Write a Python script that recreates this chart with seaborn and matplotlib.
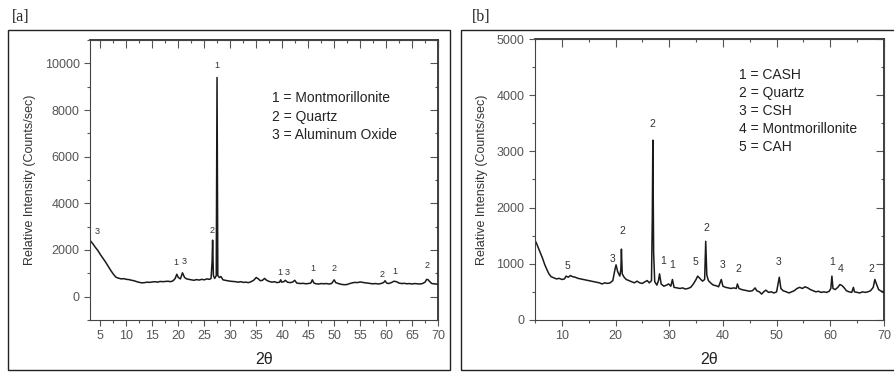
import matplotlib
matplotlib.use("Agg")
import matplotlib.pyplot as plt
from matplotlib.patches import Rectangle
from matplotlib.ticker import MultipleLocator
import seaborn as sns

# ---- panel [a] : raw soil ----
two_theta_a = [3.0, 3.3, 3.6, 4.0, 4.5, 5.0, 5.5, 6.0, 6.5, 7.0, 7.5, 8.0, 8.5, 9.0, 9.5, 10.0,
               10.5, 11.0, 11.5, 12.0, 12.5, 13.0, 13.5, 14.0, 14.5, 15.0, 15.5, 16.0, 16.5, 17.0,
               17.5, 18.0, 18.5, 19.0, 19.4, 19.7, 20.0, 20.4, 20.8, 21.2, 21.6, 22.0, 22.5, 23.0,
               23.5, 24.0, 24.5, 25.0, 25.5, 26.0, 26.3, 26.5, 26.6, 26.75, 27.0, 27.3, 27.45, 27.6,
               27.9, 28.2, 28.6, 29.0, 29.5, 30.0, 30.5, 31.0, 31.5, 32.0, 32.5, 33.0, 33.5, 34.0,
               34.5, 35.0, 35.4, 35.8, 36.2, 36.6, 37.0, 37.5, 38.0, 38.5, 39.0, 39.5, 39.7, 39.9,
               40.3, 40.6, 41.0, 41.5, 42.0, 42.4, 42.8, 43.5, 44.0, 44.5, 45.0, 45.5, 45.8, 46.1,
               46.5, 47.0, 47.5, 48.0, 48.5, 49.0, 49.5, 50.0, 50.3, 50.8, 51.5, 52.0, 52.5, 53.0,
               53.5, 54.0, 54.5, 55.0, 55.5, 56.0, 56.5, 57.0, 57.5, 58.0, 58.5, 59.0, 59.5, 59.8,
               60.1, 60.5, 61.0, 61.5, 62.0, 62.5, 63.0, 63.5, 64.0, 64.5, 65.0, 65.5, 66.0, 66.5,
               67.0, 67.5, 67.8, 68.1, 68.4, 68.8, 69.2, 69.6, 70.0]
counts_a = [2420, 2330, 2250, 2120, 1980, 1800, 1640, 1480, 1300, 1120, 960, 830, 790, 760, 770, 740,
            730, 700, 680, 640, 610, 590, 600, 620, 610, 630, 640, 620, 650, 640,
            650, 660, 640, 680, 780, 960, 820, 760, 1020, 820, 760, 740, 720, 700,
            730, 710, 740, 720, 760, 740, 780, 1500, 2420, 900, 780, 900, 9400, 900,
            820, 860, 720, 700, 680, 660, 650, 640, 620, 640, 610, 620, 600, 640,
            700, 820, 760, 680, 700, 780, 700, 650, 620, 640, 600, 620, 720, 620,
            640, 700, 620, 600, 620, 700, 580, 560, 570, 550, 560, 580, 720, 580,
            550, 540, 560, 550, 560, 540, 560, 720, 600, 560, 520, 510, 520, 560,
            590, 610, 600, 630, 610, 590, 580, 560, 550, 560, 540, 560, 600, 680,
            580, 560, 600, 660, 640, 580, 560, 570, 550, 560, 540, 560, 550, 540,
            560, 620, 740, 720, 640, 560, 550, 540, 530]
peak_labels_a = ["3", "1", "3", "2", "1", "1", "3", "1", "2", "2", "1", "2"]
peak_x_a = [4.3, 19.5, 21.1, 26.5, 27.5, 39.6, 41.0, 45.8, 50.0, 59.3, 61.6, 67.9]
peak_y_a = [2600, 1250, 1300, 2650, 9700, 850, 850, 1000, 1000, 750, 900, 1150]
legend_a = ["1 = Montmorillonite", "2 = Quartz", "3 = Aluminum Oxide"]

# ---- panel [b] : stabilised soil ----
two_theta_b = [5.0, 5.3, 5.6, 6.0, 6.4, 6.8, 7.2, 7.6, 8.0, 8.5, 9.0, 9.5, 10.0, 10.5, 10.8, 11.2,
               11.6, 12.0, 12.5, 13.0, 13.5, 14.0, 14.5, 15.0, 15.5, 16.0, 16.5, 17.0, 17.5, 18.0,
               18.5, 19.0, 19.5, 19.9, 20.1, 20.4, 20.8, 21.0, 21.1, 21.25, 21.6, 22.0, 22.5, 23.0,
               23.5, 24.0, 24.5, 25.0, 25.5, 25.9, 26.3, 26.7, 26.85, 26.95, 27.1, 27.3, 27.7, 28.0,
               28.2, 28.5, 29.0, 29.5, 29.9, 30.3, 30.6, 30.9, 31.5, 32.0, 32.5, 33.0, 33.5, 34.0,
               34.5, 35.0, 35.3, 35.7, 36.2, 36.6, 36.8, 37.0, 37.3, 37.7, 38.2, 38.7, 39.2, 39.7,
               40.0, 40.5, 41.0, 41.5, 42.0, 42.5, 42.7, 43.0, 43.5, 44.0, 44.5, 45.0, 45.5, 46.0,
               46.3, 46.8, 47.2, 47.6, 48.0, 48.5, 49.0, 49.5, 50.0, 50.5, 50.8, 51.2, 51.8, 52.3,
               52.8, 53.3, 53.8, 54.3, 54.8, 55.3, 55.8, 56.3, 56.8, 57.3, 57.8, 58.3, 58.8, 59.3,
               59.8, 60.1, 60.3, 60.5, 60.9, 61.4, 61.8, 62.2, 62.6, 63.0, 63.5, 64.0, 64.3, 64.5,
               65.0, 65.5, 66.0, 66.5, 67.0, 67.5, 68.0, 68.3, 68.6, 69.0, 69.5, 70.0]
counts_b = [1420, 1360, 1290, 1200, 1100, 990, 900, 820, 770, 750, 730, 740, 720, 730, 780, 760,
            790, 770, 760, 740, 730, 720, 710, 700, 690, 680, 670, 660, 640, 660,
            650, 660, 700, 900, 980, 860, 780, 900, 1260, 820, 760, 720, 700, 680,
            660, 690, 660, 650, 680, 700, 660, 700, 1800, 3200, 1200, 680, 620, 700,
            820, 640, 600, 620, 640, 600, 720, 580, 570, 560, 570, 550, 560, 580,
            640, 720, 780, 740, 690, 720, 1400, 800, 700, 660, 620, 610, 590, 720,
            600, 580, 570, 560, 570, 560, 640, 560, 540, 530, 520, 510, 520, 570,
            520, 500, 460, 500, 530, 490, 500, 480, 500, 760, 560, 520, 500, 480,
            500, 520, 560, 580, 560, 590, 570, 540, 520, 500, 510, 490, 500, 490,
            510, 560, 780, 560, 540, 580, 630, 610, 570, 520, 500, 490, 580, 500,
            490, 480, 500, 490, 500, 520, 580, 720, 640, 540, 510, 500]
peak_labels_b = ["5", "3", "2", "2", "1", "1", "5", "2", "3", "2", "3", "1", "4", "2"]
peak_x_b = [11.0, 19.5, 21.3, 26.8, 28.8, 30.6, 34.8, 36.9, 39.9, 42.8, 50.3, 60.3, 61.9, 67.6]
peak_y_b = [870, 1000, 1500, 3400, 960, 880, 940, 1550, 880, 820, 940, 950, 820, 820]
legend_b = ["1 = CASH", "2 = Quartz", "3 = CSH", "4 = Montmorillonite", "5 = CAH"]

assert len(two_theta_a) == len(counts_a)
assert len(two_theta_b) == len(counts_b)

sns.set_theme(style="ticks")
plt.rcParams["font.family"] = ["Liberation Sans", "DejaVu Sans"]

fig = plt.figure(figsize=(8.94, 3.72), dpi=100)
ax_a = fig.add_axes([0.1007, 0.140, 0.3893, 0.752])
ax_b = fig.add_axes([0.5984, 0.140, 0.3904, 0.755])

grey = "#555555"
line_col = "#1a1a1a"


def style_axis(ax, xmaj, xmin, ymaj, ymin):
    ax.xaxis.set_major_locator(MultipleLocator(xmaj))
    ax.xaxis.set_minor_locator(MultipleLocator(xmin))
    ax.yaxis.set_major_locator(MultipleLocator(ymaj))
    ax.yaxis.set_minor_locator(MultipleLocator(ymin))
    ax.tick_params(which="both", direction="out", colors=grey, labelsize=9, width=0.8)
    ax.tick_params(which="major", length=4)
    ax.tick_params(which="minor", length=2.5)
    for s in ax.spines.values():
        s.set_visible(True)
        s.set_color("#444444")
        s.set_linewidth(0.8)
    top = ax.secondary_xaxis("top")
    top.xaxis.set_major_locator(MultipleLocator(xmaj))
    top.xaxis.set_minor_locator(MultipleLocator(xmin))
    top.tick_params(which="both", direction="in", labeltop=False, colors=grey, width=0.8)
    top.tick_params(which="minor", length=2.5)
    right = ax.secondary_yaxis("right")
    right.yaxis.set_major_locator(MultipleLocator(ymaj))
    right.yaxis.set_minor_locator(MultipleLocator(ymin))
    right.tick_params(which="both", direction="in", labelright=False, colors=grey, width=0.8)
    right.tick_params(which="minor", length=2.5)
    ax.set_xlabel("2θ", fontsize=11.5, color="#222222", labelpad=7)
    ax.set_ylabel("Relative Intensity (Counts/sec)", fontsize=9, color="#333333", labelpad=6)


# panel a
sns.lineplot(x=two_theta_a, y=counts_a, ax=ax_a, color=line_col, linewidth=1.1,
             estimator=None, sort=False)
ax_a.set_xlim(3, 70)
ax_a.set_ylim(-1000, 11000)
style_axis(ax_a, 5, 2.5, 2000, 1000)
for lab, px, py in zip(peak_labels_a, peak_x_a, peak_y_a):
    ax_a.text(px, py, lab, fontsize=6.5, color="#333333", ha="center", va="bottom")
for i, t in enumerate(legend_a):
    ax_a.text(38.0, 8500 - i * 780, t, fontsize=10, color="#222222", va="center")

# panel b
sns.lineplot(x=two_theta_b, y=counts_b, ax=ax_b, color=line_col, linewidth=1.1,
             estimator=None, sort=False)
ax_b.set_xlim(5, 70)
ax_b.set_ylim(0, 5000)
style_axis(ax_b, 10, 5, 1000, 500)
for lab, px, py in zip(peak_labels_b, peak_x_b, peak_y_b):
    ax_b.text(px, py, lab, fontsize=7.5, color="#333333", ha="center", va="bottom")
for i, t in enumerate(legend_b):
    ax_b.text(43.0, 4360 - i * 320, t, fontsize=10, color="#222222", va="center")

# outer panel frames and tags
fig.add_artist(Rectangle((8 / 894, 2 / 372), 442 / 894, 340 / 372, transform=fig.transFigure,
                         fill=False, edgecolor="#222222", linewidth=1.0))
fig.add_artist(Rectangle((461 / 894, 2 / 372), 440 / 894, 340 / 372, transform=fig.transFigure,
                         fill=False, edgecolor="#222222", linewidth=1.0))
fig.text(12 / 894, 1 - 17 / 372, "[a]", family="Liberation Serif", fontsize=11.5, va="center")
fig.text(472 / 894, 1 - 17 / 372, "[b]", family="Liberation Serif", fontsize=11.5, va="center")

fig.savefig("out.png", dpi=100)
